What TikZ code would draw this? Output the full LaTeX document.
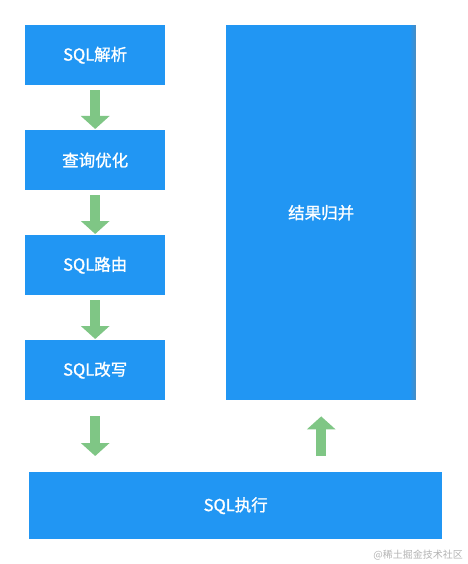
\documentclass[tikz,border=0pt]{standalone}
\usepackage{fontspec}
\newfontfamily\cjk[FakeBold=1.2]{Noto Sans CJK SC}
\newfontfamily\cjkwm{Noto Sans CJK SC}
\usetikzlibrary{arrows.meta}
\definecolor{boxblue}{HTML}{2196F3}
\definecolor{arrgreen}{HTML}{7FC685}
\definecolor{wmgray}{HTML}{B4B4B4}
\tikzset{
  stepbox/.style={fill=boxblue, text=white, inner sep=0pt, anchor=north west,
    font=\cjk\fontsize{16.5}{19}\selectfont},
  flowarrow/.style={draw=arrgreen, line width=10pt,
    -{Triangle[width=28pt,length=13pt]}, shorten <=#1, shorten >=#1},
  steparrow/.style={draw=arrgreen, line width=10pt,
    -{Triangle[width=28pt,length=13pt]}, shorten <=5pt, shorten >=1pt},
}
\begin{document}
\begin{tikzpicture}[x=1pt,y=-1pt]
\useasboundingbox (0,0) rectangle (467,564);
\fill[white] (0,0) rectangle (467,564);
\node[stepbox, minimum width=140pt, minimum height=60pt] (parse) at (25,25) {SQL解析};
\node[stepbox, minimum width=140pt, minimum height=60pt] (opt) at (25,130) {查询优化};
\node[stepbox, minimum width=140pt, minimum height=60pt] (route) at (25,235) {SQL路由};
\node[stepbox, minimum width=140pt, minimum height=60pt] (rewrite) at (25,340) {SQL改写};
\node[stepbox, minimum width=190pt, minimum height=375pt] (merge) at (226,25) {结果归并};
\foreach \i/\m in {0/92,1/85,2/78,3/70,4/62} {
  \fill[boxblue!\m!gray] (411+\i,25) rectangle (412+\i,400);
}
\node[stepbox, minimum width=413pt, minimum height=67pt] (exec) at (29,472) {SQL执行};
\draw[steparrow] (parse.south) -- (opt.north);
\draw[steparrow] (opt.south) -- (route.north);
\draw[steparrow] (route.south) -- (rewrite.north);
\coordinate (execin) at (rewrite.south |- exec.north);
\coordinate (execout) at (merge.south |- exec.north);
\draw[flowarrow=16pt] (rewrite.south) -- (execin);
\draw[flowarrow=16pt] (execout) -- (merge.south);
\node[anchor=east, text=wmgray, inner sep=0pt, font=\cjkwm\fontsize{10}{12}\selectfont] (wm) at (463,555) {@稀土掘金技术社区};
\end{tikzpicture}
\end{document}
